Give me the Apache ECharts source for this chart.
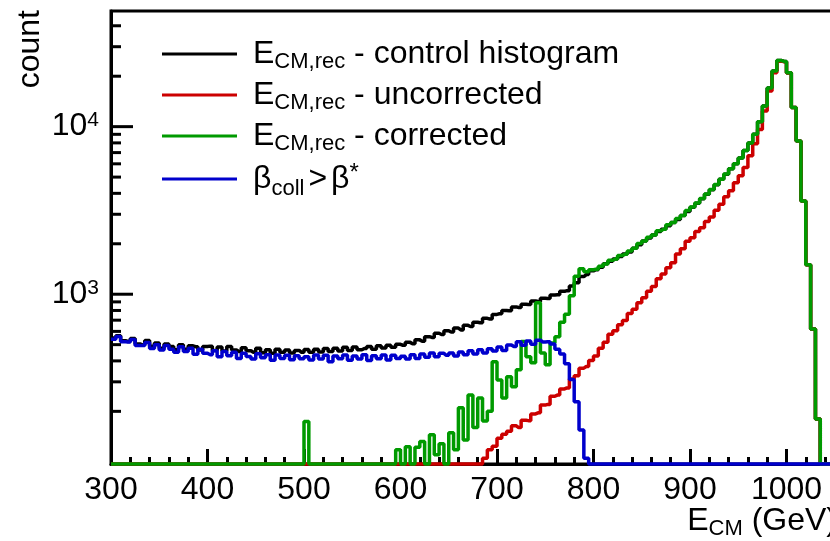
<!DOCTYPE html>
<html>
<head>
<meta charset="utf-8">
<script src="https://cdn.jsdelivr.net/npm/echarts@6/dist/echarts.min.js"></script>
<style>
  html, body { margin: 0; padding: 0; background: #fff; }
  #chart { width: 830px; height: 541px; }
</style>
</head>
<body>
<div id="chart"></div>
<script>
// histogram bins: 5 GeV wide, 300 .. 1050 GeV
var binStart = 300;
var binWidth = 5;

// E_CM,rec - control histogram
var controlCounts = [
  548, 565, 528, 522, 545, 505, 498, 530, 490, 512,
  476, 505, 488, 466, 500, 470, 492, 486, 464, 488,
  490, 462, 484, 458, 488, 465, 455, 480, 460, 450,
  476, 448, 466, 444, 470, 450, 464, 446, 462, 450,
  468, 450, 470, 452, 474, 455, 476, 458, 482, 462,
  484, 466, 474, 488, 470, 492, 478, 496, 482, 502,
  496, 516, 506, 534, 524, 558, 552, 585, 575, 606,
  594, 628, 612, 652, 642, 680, 676, 718, 712, 758,
  764, 800, 796, 840, 834, 872, 868, 912, 905, 945,
  942, 990, 992, 1040, 1050, 1120, 1170, 1275, 1310, 1380,
  1400, 1450, 1520, 1575, 1625, 1680, 1735, 1785, 1880, 1975,
  2080, 2165, 2255, 2365, 2440, 2560, 2680, 2790, 2950, 3120,
  3300, 3490, 3710, 3950, 4200, 4500, 4850, 5200, 5600, 6000,
  6500, 7200, 8000, 9000, 10700, 13300, 17000, 21500, 24800, 24500,
  21000, 13000, 8200, 3600, 1500, 620, 180, 0, 0, 0
];

// E_CM,rec - uncorrected
var uncorrectedCounts = [
  0, 0, 0, 0, 0, 0, 0, 0, 0, 0,
  0, 0, 0, 0, 0, 0, 0, 0, 0, 0,
  0, 0, 0, 0, 0, 0, 0, 0, 0, 0,
  0, 0, 0, 0, 0, 0, 0, 0, 0, 0,
  0, 0, 0, 0, 0, 0, 0, 0, 0, 0,
  0, 0, 0, 0, 0, 0, 0, 0, 0, 0,
  0, 0, 0, 0, 0, 0, 0, 0, 0, 0,
  0, 0, 0, 0, 0, 0, 0, 105, 118, 124,
  138, 146, 152, 164, 160, 177, 176, 193, 196, 218,
  220, 246, 250, 272, 276, 312, 326, 362, 370, 402,
  428, 476, 516, 576, 606, 658, 696, 768, 814, 890,
  952, 1040, 1110, 1235, 1320, 1440, 1540, 1740, 1870, 2070,
  2170, 2370, 2490, 2720, 2890, 3170, 3440, 3820, 4140, 4620,
  5100, 5700, 6700, 7900, 9600, 12400, 16300, 21000, 24600, 24400,
  20900, 13000, 8200, 3600, 1500, 620, 180, 0, 0, 0
];

// E_CM,rec - corrected
var correctedCounts = [
  0, 0, 0, 0, 0, 0, 0, 0, 0, 0,
  0, 0, 0, 0, 0, 0, 0, 0, 0, 0,
  0, 0, 0, 0, 0, 0, 0, 0, 0, 0,
  0, 0, 0, 0, 0, 0, 0, 0, 0, 0,
  174, 0, 0, 0, 0, 0, 0, 0, 0, 0,
  0, 0, 0, 0, 0, 0, 0, 0, 0, 118,
  0, 123, 0, 122, 132, 0, 145, 110, 128, 0,
  149, 118, 210, 135, 250, 160, 240, 175, 200, 396,
  308, 240, 322, 280, 354, 522, 424, 390, 890, 446,
  380, 512, 558, 680, 760, 980, 1280, 1420, 1360, 1400,
  1410, 1470, 1515, 1595, 1620, 1705, 1730, 1810, 1880, 2005,
  2080, 2190, 2255, 2395, 2440, 2600, 2680, 2830, 2950, 3160,
  3310, 3500, 3720, 3960, 4210, 4510, 4860, 5210, 5610, 6010,
  6500, 7200, 8000, 9000, 10700, 13300, 17000, 21500, 24800, 24500,
  21000, 13000, 8200, 3600, 1500, 620, 180, 0, 0, 0
];

// beta_coll > beta*
var betaCounts = [
  538, 560, 520, 518, 536, 495, 494, 515, 474, 500,
  465, 495, 470, 450, 486, 455, 476, 438, 470, 445,
  436, 460, 424, 455, 430, 450, 414, 445, 425, 410,
  442, 418, 436, 404, 434, 414, 432, 406, 430, 412,
  424, 405, 434, 410, 432, 396, 428, 412, 434, 404,
  428, 410, 436, 402, 430, 412, 434, 405, 432, 414,
  426, 410, 436, 414, 440, 420, 446, 424, 444, 432,
  446, 428, 452, 436, 460, 440, 466, 446, 472, 458,
  484, 462, 498, 488, 520, 496, 526, 502, 532, 518,
  520, 505, 470, 440, 385, 310, 228, 155, 105, 0,
  0, 0, 0, 0, 0, 0, 0, 0, 0, 0,
  0, 0, 0, 0, 0, 0, 0, 0, 0, 0,
  0, 0, 0, 0, 0, 0, 0, 0, 0, 0,
  0, 0, 0, 0, 0, 0, 0, 0, 0, 0,
  0, 0, 0, 0, 0, 0, 0, 0, 0, 0
];

var seriesNames = ['control', 'uncorrected', 'corrected', 'beta'];
var seriesColors = ['#000000', '#cc0000', '#009a00', '#0000cc'];

// y axis (log) tick marks
var yMin = 97;
var yMax = 49000;
var yTickValues = [200, 300, 400, 500, 600, 700, 800, 900, 1000,
  2000, 3000, 4000, 5000, 6000, 7000, 8000, 9000, 10000, 20000, 30000, 40000];
var yMajorTicks = [1000, 10000];

var font = 'Liberation Sans, Arial, Helvetica, sans-serif';

var legendLabels = {
  control: '{g| }{m|E}{s|CM,rec}{m| - control histogram}',
  uncorrected: '{g| }{m|E}{s|CM,rec}{m| - uncorrected}',
  corrected: '{g| }{m|E}{s|CM,rec}{m| - corrected}',
  beta: '{g| }{m|\u03b2}{c|coll}{h| }{m|>}{h| }{m|\u03b2}{u|*}'
};

// empty bins sit on the bottom of the frame like in ROOT
function histPoints(counts) {
  var pts = [];
  for (var i = 0; i < counts.length; i++) {
    var v = counts[i] > 0 ? counts[i] : yMin;
    if (i === 0) pts.push([binStart, v]);
    pts.push([binStart + (i + 0.5) * binWidth, v]);
  }
  pts.push([binStart + counts.length * binWidth, pts[pts.length - 1][1]]);
  return pts;
}

var allCounts = [controlCounts, uncorrectedCounts, correctedCounts, betaCounts];

var chart = echarts.init(document.getElementById('chart'), null, {renderer: 'canvas'});

var series = allCounts.map(function (counts, k) {
  return {
    name: seriesNames[k],
    type: 'line',
    step: 'middle',
    data: histPoints(counts),
    showSymbol: false,
    symbol: 'none',
    clip: false,
    lineStyle: {color: seriesColors[k], width: 3.5},
    itemStyle: {color: seriesColors[k]},
    z: 2 + k
  };
});

series.push({
  type: 'custom',
  silent: true,
  z: 10,
  data: yTickValues.map(function (v) { return [binStart, v]; }),
  encode: {x: 0, y: 1},
  renderItem: function (params, api) {
    var v = api.value(1);
    var p = api.coord([api.value(0), v]);
    var len = yMajorTicks.indexOf(v) >= 0 ? 22 : 10;
    return {
      type: 'line',
      shape: {x1: p[0], y1: p[1], x2: p[0] + len, y2: p[1]},
      style: {stroke: '#000', lineWidth: 3}
    };
  }
});

var option = {
  animation: false,
  backgroundColor: '#fff',
  textStyle: {fontFamily: font, color: '#000'},
  grid: {
    left: 111, top: 11, width: 772, height: 453,
    show: true, borderColor: '#000', borderWidth: 3,
    outerBoundsMode: 'none',
    containLabel: false
  },
  legend: {
    orient: 'vertical',
    left: 162, top: 35,
    padding: 0,
    itemGap: 3,
    itemWidth: 75,
    itemHeight: 3,
    icon: 'rect',
    selectedMode: false,
    data: seriesNames,
    formatter: function (name) { return legendLabels[name]; },
    textStyle: {
      color: '#000',
      fontFamily: font,
      rich: {
        g: {width: 11, fontSize: 10},
        h: {width: 4, fontSize: 10},
        m: {fontSize: 32, lineHeight: 38, fontFamily: font, color: '#000'},
        s: {fontSize: 22, lineHeight: 22, padding: [16, 0, 0, 0], fontFamily: font, color: '#000'},
        c: {fontSize: 22, lineHeight: 22, padding: [20, 0, 0, 0], fontFamily: font, color: '#000'},
        u: {fontSize: 24, lineHeight: 24, padding: [0, 0, 12, 0], fontFamily: font, color: '#000'}
      }
    }
  },
  xAxis: {
    type: 'value',
    min: 300, max: 1100, interval: 100,
    axisLine: {show: true, onZero: false, lineStyle: {color: '#000', width: 3}},
    axisTick: {show: true, inside: true, length: 15, lineStyle: {color: '#000', width: 3}},
    minorTick: {show: true, splitNumber: 5, length: 7, lineStyle: {color: '#000', width: 3}},
    axisLabel: {
      fontSize: 32, lineHeight: 32, color: '#000', margin: 10, fontFamily: font,
      formatter: function (v) { return String(v); }
    },
    splitLine: {show: false},
    minorSplitLine: {show: false}
  },
  yAxis: {
    type: 'log',
    logBase: 10,
    min: yMin, max: yMax,
    axisLine: {show: true, onZero: false, lineStyle: {color: '#000', width: 3}},
    axisTick: {show: false},
    axisLabel: {
      margin: 12,
      color: '#000',
      formatter: function (v) {
        var r = Math.round(v);
        if (r === 1000) return '{b|10}{p|3}';
        if (r === 10000) return '{b|10}{p|4}';
        return '';
      },
      rich: {
        b: {fontSize: 32, lineHeight: 36, fontFamily: font, color: '#000'},
        p: {fontSize: 21, lineHeight: 21, padding: [0, 0, 12, 0], fontFamily: font, color: '#000'}
      }
    },
    splitLine: {show: false}
  },
  graphic: [
    {
      type: 'text',
      x: 30, y: 10,
      rotation: Math.PI / 2,
      style: {text: 'count', fontSize: 32, fontFamily: font, fill: '#000', align: 'right', verticalAlign: 'middle'}
    },
    {
      type: 'text',
      x: 837, y: 521,
      style: {
        text: '{m|E}{s|CM}{m| (GeV)}',
        fontFamily: font, fill: '#000',
        align: 'right', verticalAlign: 'middle',
        rich: {
          m: {fontSize: 32, lineHeight: 38, fontFamily: font, fill: '#000'},
          s: {fontSize: 22, lineHeight: 22, padding: [16, 0, 0, 0], fontFamily: font, fill: '#000'}
        }
      }
    }
  ],
  series: series
};

chart.setOption(option);
</script>
</body>
</html>
